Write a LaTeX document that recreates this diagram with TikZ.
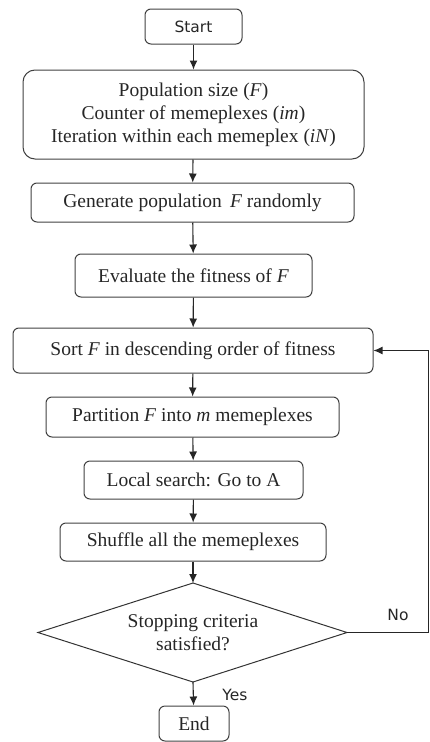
\documentclass[tikz,border=0pt]{standalone}
\usepackage{fontspec}
\setmainfont{Liberation Serif}
\newfontfamily\labelfont{DejaVu Sans}
\usetikzlibrary{arrows.meta}
\begin{document}
\begin{tikzpicture}[x=1pt,y=1pt,
  box/.style={draw=black!75,line width=1pt,rounded corners=6pt,inner sep=0pt,font=\fontsize{19.5}{23}\selectfont,text=black!85},
  flow/.style={draw=black!85,line width=1.1pt,-{Latex[length=9pt,width=8pt]}},
  lbl/.style={font=\labelfont\fontsize{15.5}{18}\selectfont,text=black!85,inner sep=0pt}]
\useasboundingbox (0,0) rectangle (430,-742);
\node[box,minimum width=97pt,minimum height=35pt,font=\labelfont\fontsize{15.5}{18}\selectfont] (start) at (193.5,-26.5) {Start};
\node[box,rounded corners=12pt,minimum width=341pt,minimum height=89pt,align=center] (param) at (193.5,-114.5)
  {Population size (\textit{F})\\Counter of memeplexes (\textit{im})\\Iteration within each memeplex (\textit{iN})};
\node[box,minimum width=323pt,minimum height=39pt] (gen) at (192.5,-202.5) {Generate population \,\textit{F} randomly};
\node[box,minimum width=237pt,minimum height=43pt] (eval) at (193.5,-275.5) {Evaluate the fitness of \textit{F}};
\node[box,minimum width=360pt,minimum height=45pt] (sort) at (193,-350.5) {Sort \textit{F} in descending order of fitness};
\node[box,minimum width=293pt,minimum height=40pt] (part) at (192.5,-417) {Partition \textit{F} into \textit{m} memeplexes};
\node[box,minimum width=219pt,minimum height=38pt] (local) at (193.5,-480) {Local search: Go to A};
\node[box,minimum width=266pt,minimum height=38pt] (shuf) at (193,-542) {Shuffle all the memeplexes};
\coordinate (dt) at (193,-583);
\coordinate (dl) at (38,-632.5);
\coordinate (dr) at (347,-632.5);
\coordinate (db) at (193,-682);
\draw[draw=black!80,line width=1pt] (dt) -- (dr) -- (db) -- (dl) -- cycle;
\node[align=center,font=\fontsize{19.5}{23}\selectfont,text=black!85,inner sep=0pt] (dec) at (193,-632.5)
  {Stopping criteria\\satisfied?};
\node[box,minimum width=70pt,minimum height=35pt] (end) at (194,-723.5) {End};
\coordinate (c1) at (428.5,-632.5);
\coordinate (c2) at (428.5,-350.5);
\draw[flow] (start) -- (param);
\draw[flow] (param) -- (gen);
\draw[flow] (gen) -- (eval);
\draw[flow] (eval) -- (sort);
\draw[flow] (sort) -- (part);
\draw[flow] (part) -- (local);
\draw[flow] (local) -- (shuf);
\draw[flow] (shuf) -- (dt);
\draw[flow] (db) -- (end);
\draw[flow] (dr) -- (c1) -- (c2) -- (sort.east);
\node[lbl] (no) at (398,-615) {No};
\node[lbl] (yes) at (235,-695) {Yes};
\end{tikzpicture}
\end{document}
